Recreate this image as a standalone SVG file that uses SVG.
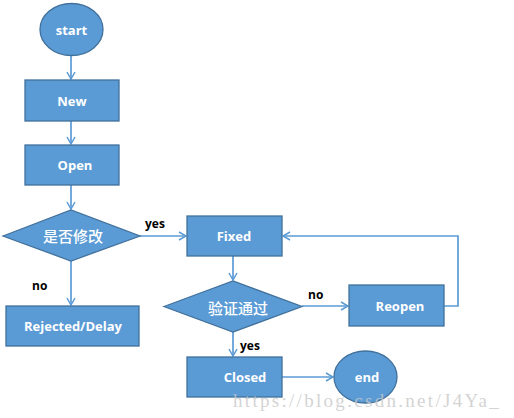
<svg xmlns="http://www.w3.org/2000/svg" width="514" height="418" viewBox="0 0 514 418">
<defs>
<marker id="arr" markerWidth="10" markerHeight="10" refX="8" refY="5" orient="auto" markerUnits="userSpaceOnUse">
<path d="M1,1 L8,5 L1,9" fill="none" stroke="#5B9BD5" stroke-width="1.5"/>
</marker>
</defs>
<style>
.n{fill:#5B9BD5;stroke:#41719C;stroke-width:1.3}
.t{fill:#fff;font-family:"Open Sans","Noto Sans CJK SC",sans-serif;font-weight:bold;font-size:13px;text-anchor:middle;dominant-baseline:central}
.cn{font-family:"Noto Sans CJK SC",sans-serif;font-size:15px;font-weight:500}
.c{fill:none;stroke:#5B9BD5;stroke-width:1.7;marker-end:url(#arr)}
.l{fill:#000;font-family:"Open Sans",sans-serif;font-weight:bold;font-size:12px}
</style>
<rect width="514" height="418" fill="#fff"/>
<g id="connectors">
<path class="c" d="M71,56 V79"/>
<path class="c" d="M71,121 V144"/>
<path class="c" d="M71,185 V209"/>
<path class="c" d="M71,261 V305"/>
<path class="c" d="M140,236 H186"/>
<path class="c" d="M233,256 V280"/>
<path class="c" d="M302,306 H348"/>
<path class="c" d="M233,332 V356"/>
<path class="c" d="M444,306 H458 V236 H283"/>
<path class="c" d="M282,377 H333"/>
<text class="l" x="145" y="228">yes</text>
<text class="l" x="32" y="290">no</text>
<text class="l" x="308" y="299">no</text>
<text class="l" x="240" y="350">yes</text>
</g>
<g id="start"><ellipse class="n" cx="71.5" cy="29.5" rx="31.5" ry="26"/><text class="t" x="71.5" y="30">start</text></g>
<g id="new"><rect class="n" x="25" y="80" width="94" height="41"/><text class="t" x="72" y="101">New</text></g>
<g id="open"><rect class="n" x="25" y="145" width="94" height="40"/><text class="t" x="75" y="165">Open</text></g>
<g id="decide1"><polygon class="n" points="3,236 71,210 140,236 71,261"/><text class="t cn" x="73" y="235">是否修改</text></g>
<g id="rejected"><rect class="n" x="6" y="306" width="133" height="40"/><text class="t" x="73" y="326">Rejected/Delay</text></g>
<g id="fixed"><rect class="n" x="187" y="216" width="95" height="40"/><text class="t" x="234" y="236">Fixed</text></g>
<g id="decide2"><polygon class="n" points="164,306.5 233,281 302,306.5 233,332"/><text class="t cn" x="238" y="307">验证通过</text></g>
<g id="reopen"><rect class="n" x="349" y="285" width="95" height="41"/><text class="t" x="400" y="306">Reopen</text></g>
<g id="closed"><rect class="n" x="187" y="357" width="95" height="40"/><text class="t" x="245" y="377">Closed</text></g>
<g id="end"><ellipse class="n" cx="365.5" cy="377" rx="31.5" ry="26"/><text class="t" x="367" y="377">end</text></g>
<text x="233" y="407" font-family="Liberation Serif,serif" font-size="19" fill="#C8C8C8" fill-opacity="0.8" letter-spacing="2.3">https://blog.csdn.net/J4Ya_</text>
</svg>
